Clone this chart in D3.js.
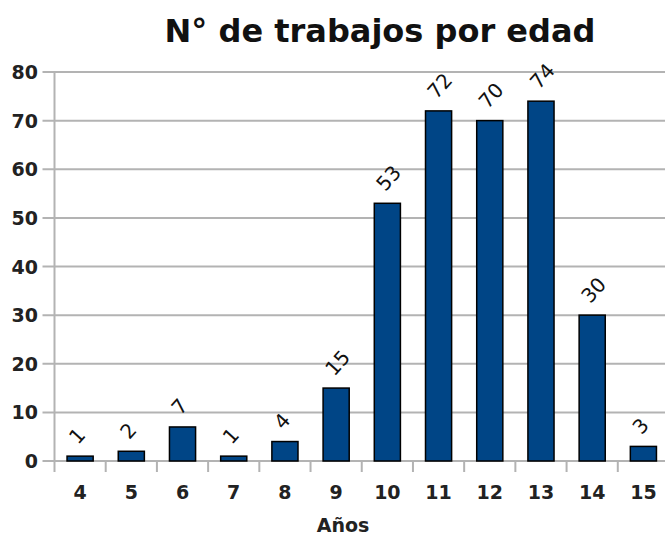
<!DOCTYPE html>
<html>
<meta charset="UTF-8">
<style>
body { margin: 0; background: white; }
text { font-family: "DejaVu Sans", sans-serif; }
.grid line { stroke: #b3b3b3; stroke-width: 2px; }
.bar { fill: #004586; stroke: black; stroke-width: 1.5px; }
</style>
<svg width="665" height="535"></svg>
<script src="https://d3js.org/d3.v7.min.js"></script>
<script>
// data
var ages = ["4", "5", "6", "7", "8", "9", "10", "11", "12", "13", "14", "15"];
var jobs = [1, 2, 7, 1, 4, 15, 53, 72, 70, 74, 30, 3];
var yTicks = [0, 10, 20, 30, 40, 50, 60, 70, 80];

var svg = d3.select("svg");
// plot runs a little past the right edge, as in the reference
var plotL = 54.5, plotR = 669, plotT = 72, plotB = 461;

var x = d3.scaleBand().domain(ages).range([plotL, plotR]).paddingInner(0.49).paddingOuter(0.245);
var band = d3.scaleBand().domain(ages).range([plotL, plotR]);
var y = d3.scaleLinear().domain([0, 80]).range([plotB, plotT]);

// horizontal grid lines
svg.append("g").attr("class", "grid")
  .selectAll("line").data(yTicks).enter().append("line")
  .attr("x1", plotL - 12).attr("x2", 665)
  .attr("y1", function(d) { return y(d); })
  .attr("y2", function(d) { return y(d); });

// y axis line
svg.append("line")
  .attr("x1", plotL).attr("x2", plotL).attr("y1", plotT).attr("y2", plotB + 11)
  .attr("stroke", "#b3b3b3").attr("stroke-width", 2);

// x ticks at band boundaries
var bounds = ages.map(function(d) { return band(d); });
svg.append("g").selectAll("line").data(bounds.slice(1)).enter().append("line")
  .attr("x1", function(d) { return d; }).attr("x2", function(d) { return d; })
  .attr("y1", plotB).attr("y2", plotB + 11)
  .attr("stroke", "#b3b3b3").attr("stroke-width", 2);

// y labels
svg.append("g").selectAll("text").data(yTicks).enter().append("text")
  .attr("x", 38).attr("y", function(d) { return y(d) + 7; })
  .attr("text-anchor", "end")
  .style("font-size", "19px").style("font-weight", "bold").attr("fill", "#222")
  .text(function(d) { return d; });

// x labels
svg.append("g").selectAll("text").data(ages).enter().append("text")
  .attr("x", function(d) { return band(d) + band.bandwidth() / 2; })
  .attr("y", 499)
  .attr("text-anchor", "middle")
  .style("font-size", "19px").style("font-weight", "bold").attr("fill", "#222")
  .text(function(d) { return d; });

// bars
svg.append("g").selectAll("rect").data(jobs).enter().append("rect")
  .attr("class", "bar")
  .attr("x", function(d, i) { return x(ages[i]); })
  .attr("width", x.bandwidth())
  .attr("y", function(d) { return y(d); })
  .attr("height", function(d) { return y(0) - y(d); });

// value labels, rotated
svg.append("g").selectAll("text").data(jobs).enter().append("text")
  .attr("transform", function(d, i) {
    var cx = band(ages[i]) + band.bandwidth() / 2 - 2;
    return "translate(" + cx + "," + (y(d) - 11) + ") rotate(-48)";
  })
  .attr("text-anchor", "start")
  .style("font-size", "20px").attr("fill", "#111")
  .text(function(d) { return d; });

// title
svg.append("text")
  .attr("x", 380).attr("y", 42)
  .attr("text-anchor", "middle")
  .style("font-size", "32px").style("font-weight", "bold").attr("fill", "#111")
  .text("N° de trabajos por edad");

// x axis title
svg.append("text")
  .attr("x", 343).attr("y", 532)
  .attr("text-anchor", "middle")
  .style("font-size", "19px").style("font-weight", "bold").attr("fill", "#222")
  .text("Años");
</script>
</html>
